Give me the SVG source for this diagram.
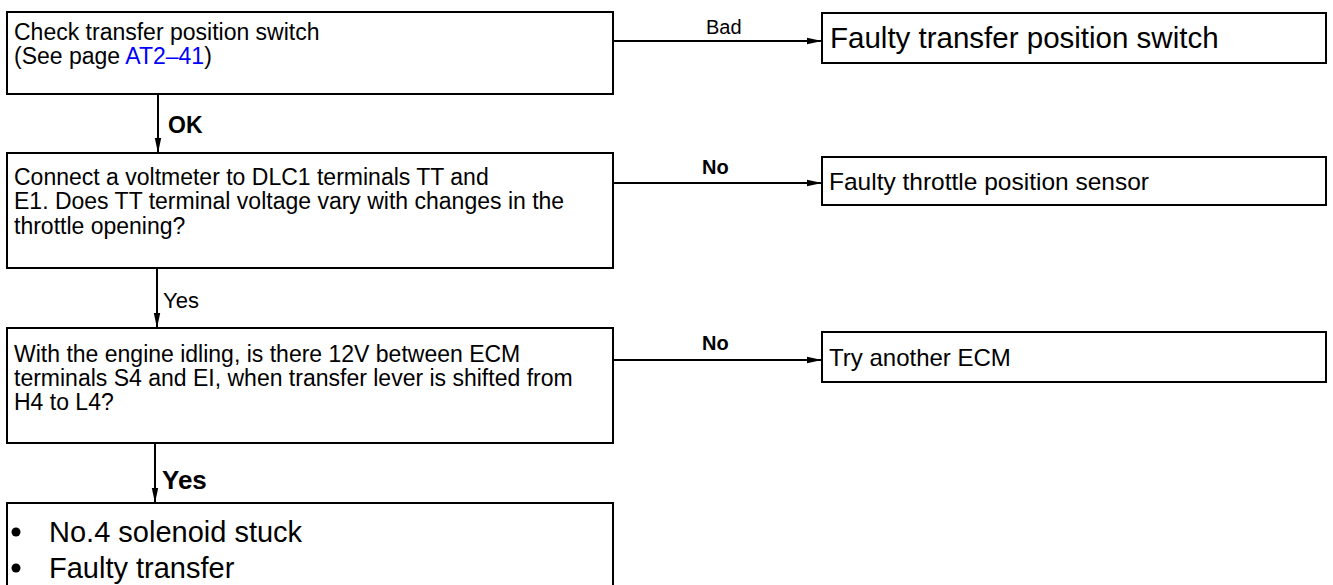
<svg xmlns="http://www.w3.org/2000/svg" width="1333" height="585" viewBox="0 0 1333 585">
<defs>
<marker id="ah" markerUnits="userSpaceOnUse" markerWidth="16" markerHeight="8" refX="15" refY="4" orient="auto">
<path d="M0,0.8 L15,4 L0,7.2 z" fill="#000"/>
</marker>
<style>
.box{fill:#fff;stroke:#000;stroke-width:2}
.t{font-family:"Liberation Sans",Arial,Helvetica,sans-serif;fill:#000}
.c{stroke:#000;stroke-width:2;fill:none;marker-end:url(#ah)}
.lb{font-family:"Liberation Sans",Arial,Helvetica,sans-serif;font-weight:bold;fill:#000}
</style>
</defs>
<rect width="1333" height="585" fill="#fff"/>
<g id="connectors">
<line class="c" x1="613" y1="41" x2="822" y2="41"/>
<text class="t" x="706" y="34" font-size="20">Bad</text>
<line class="c" x1="158" y1="94" x2="158" y2="153"/>
<text class="lb" x="168" y="133" font-size="23">OK</text>
<line class="c" x1="613" y1="183" x2="822" y2="183"/>
<text class="lb" x="702" y="174" font-size="20">No</text>
<line class="c" x1="157" y1="268" x2="157" y2="328"/>
<text class="t" x="163" y="308" font-size="22">Yes</text>
<line class="c" x1="613" y1="360" x2="822" y2="360"/>
<text class="lb" x="702" y="350" font-size="20">No</text>
<line class="c" x1="155" y1="443" x2="155" y2="503"/>
<text class="lb" x="162" y="489" font-size="26">Yes</text>
</g>
<g id="n1">
<rect class="box" x="7" y="12" width="606" height="82"/>
<text class="t" x="14" y="40" font-size="23">Check transfer position switch</text>
<text class="t" x="14" y="64" font-size="23">(See page <tspan fill="#0000ff">AT2–41</tspan>)</text>
</g>
<g id="n2">
<rect class="box" x="822" y="13" width="504" height="50"/>
<text class="t" x="830" y="48" font-size="29.5">Faulty transfer position switch</text>
</g>
<g id="n3">
<rect class="box" x="7" y="153" width="606" height="115"/>
<text class="t" x="14" y="185" font-size="23">Connect a voltmeter to DLC1 terminals TT and</text>
<text class="t" x="14" y="209" font-size="23">E1. Does TT terminal voltage vary with changes in the</text>
<text class="t" x="14" y="234" font-size="23">throttle opening?</text>
</g>
<g id="n4">
<rect class="box" x="822" y="157" width="504" height="48"/>
<text class="t" x="829" y="190" font-size="24.5">Faulty throttle position sensor</text>
</g>
<g id="n5">
<rect class="box" x="7" y="328" width="606" height="115"/>
<text class="t" x="14" y="362" font-size="23">With the engine idling, is there 12V between ECM</text>
<text class="t" x="14" y="386" font-size="23">terminals S4 and EI, when transfer lever is shifted from</text>
<text class="t" x="14" y="410" font-size="23">H4 to L4?</text>
</g>
<g id="n6">
<rect class="box" x="822" y="332" width="504" height="50"/>
<text class="t" x="829" y="366" font-size="24">Try another ECM</text>
</g>
<g id="n7">
<rect class="box" x="7" y="503" width="606" height="110"/>
<circle cx="16" cy="532" r="4.5" fill="#000"/>
<text class="t" x="49" y="542" font-size="29">No.4 solenoid stuck</text>
<circle cx="16" cy="568" r="4.5" fill="#000"/>
<text class="t" x="49" y="578" font-size="29">Faulty transfer</text>
</g>
</svg>
